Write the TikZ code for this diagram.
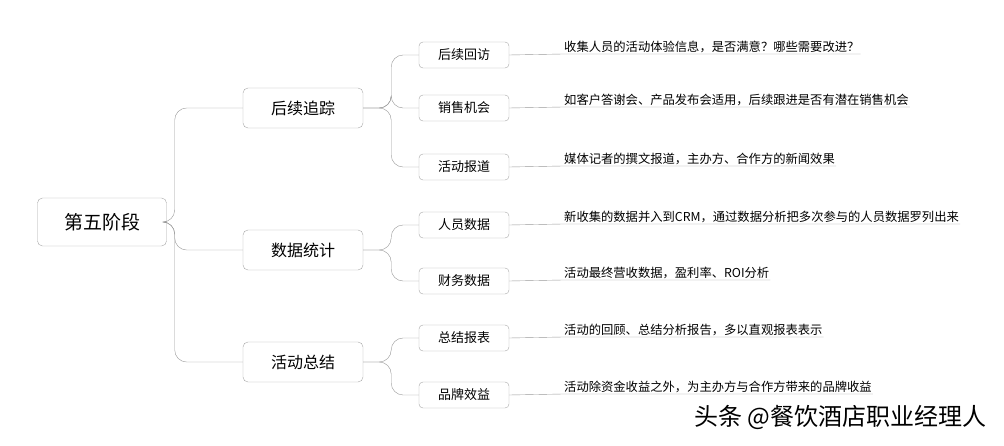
\documentclass[tikz,border=0pt]{standalone}
\usepackage{fontspec}
\setmainfont{Noto Sans CJK SC}
\usetikzlibrary{positioning}
\begin{document}
\begin{tikzpicture}[x=1pt,y=-1pt,
    root/.style = {draw=gray!70, rounded corners=5pt, minimum width=129pt, minimum height=48pt, font=\fontsize{19}{22}\selectfont},
    stage/.style = {draw=gray!70, rounded corners=5pt, minimum width=120pt, minimum height=40pt, font=\fontsize{16}{19}\selectfont},
    item/.style = {draw=gray!70, rounded corners=4pt, minimum width=90pt, minimum height=26pt, font=\fontsize{13}{15}\selectfont},
    note/.style = {anchor=south west, inner sep=1pt, font=\fontsize{12.3}{14}\selectfont},
    link/.style = {draw=gray!80, rounded corners=12pt}
]
\useasboundingbox (0,0) rectangle (1004,446);

\node (root) [root] at (102,222) {第五阶段};
\node (follow) [stage] at (303,108) {后续追踪};
\node (stats) [stage] at (303,250) {数据统计};
\node (summary) [stage] at (303,362) {活动总结};

\node (visit) [item] at (464,55) {后续回访};
\node (sales) [item] at (464,108) {销售机会};
\node (report) [item] at (464,167) {活动报道};
\node (people) [item] at (464,225) {人员数据};
\node (finance) [item] at (464,281) {财务数据};
\node (sumrep) [item] at (464,338) {总结报表};
\node (brand) [item] at (464,395) {品牌效益};

\node (n1) [note] at (563,54) {收集人员的活动体验信息，是否满意？哪些需要改进？};
\node (n2) [note] at (563,107) {如客户答谢会、产品发布会适用，后续跟进是否有潜在销售机会};
\node (n3) [note] at (563,166) {媒体记者的撰文报道，主办方、合作方的新闻效果};
\node (n4) [note] at (563,224) {新收集的数据并入到CRM，通过数据分析把多次参与的人员数据罗列出来};
\node (n5) [note] at (563,280) {活动最终营收数据，盈利率、ROI分析};
\node (n6) [note] at (563,337) {活动的回顾、总结分析报告，多以直观报表表示};
\node (n7) [note] at (563,394) {活动除资金收益之外，为主办方与合作方带来的品牌收益};

\node (mark) [anchor=east, font=\fontsize{24}{28}\selectfont] at (990,417) {头条 @餐饮酒店职业经理人};

\foreach \s in {follow,stats,summary}
  \draw[link] (root.east) -- ++(8,0) |- (\s.west);
\foreach \i in {visit,sales,report}
  \draw[link] (follow.east) -- ++(28,0) |- (\i.west);
\foreach \i in {people,finance}
  \draw[link] (stats.east) -- ++(28,0) |- (\i.west);
\foreach \i in {sumrep,brand}
  \draw[link] (summary.east) -- ++(28,0) |- (\i.west);

\foreach \i/\n in {visit/n1,sales/n2,report/n3,people/n4,finance/n5,sumrep/n6,brand/n7}
  \draw[draw=gray!80] (\i.east) -- (\n.south west) -- (\n.south east);
\end{tikzpicture}
\end{document}
